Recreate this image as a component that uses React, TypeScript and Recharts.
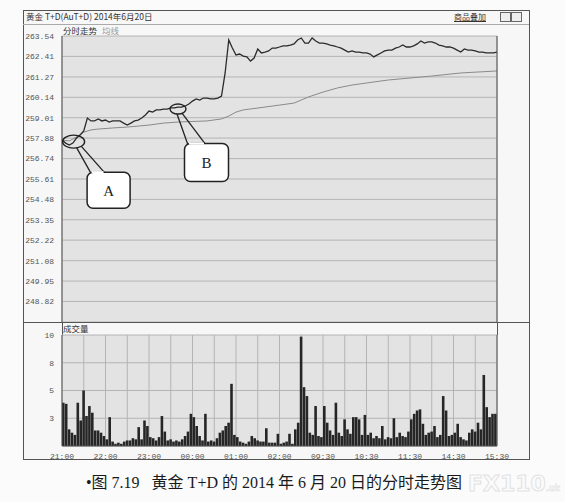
import { ComposedChart, Line, Bar, XAxis, YAxis, CartesianGrid, ReferenceDot } from 'recharts';

// price axis ticks (left) and percent ticks (right)
const PRICE_TICKS = [263.54, 262.41, 261.27, 260.14, 259.01, 257.88, 256.74, 255.61, 254.48, 253.35, 252.22, 251.08, 249.95, 248.82, 247.68];
const PCT_TICKS = [3.1, 2.66, 2.22, 1.77, 1.33, 0.89, 0.44, 0, -0.44, -0.88, -1.33, -1.77, -2.21, -2.66, -3.1];

// minute price, one value every 5 minutes from 21:00
const PRICE = [
  257.77, 257.6, 257.49, 257.6, 257.88, 258.05, 258.27, 258.99, 258.83, 258.83,
  258.94, 258.83, 258.88, 258.77, 258.83, 258.83, 258.83, 258.71, 258.6, 258.71,
  258.83, 258.88, 258.99, 259.16, 259.38, 259.32, 259.44, 259.44, 259.49, 259.49,
  259.55, 259.55, 259.6, 259.6, 259.66, 259.77, 259.93, 260.05, 259.99, 260.1,
  260.1, 260.05, 260.05, 260.1, 260.21, 261.49, 263.32, 262.87, 262.49, 262.54,
  262.43, 262.38, 262.15, 262.32, 262.82, 262.6, 262.65, 262.71, 262.87, 262.87,
  262.93, 262.99, 262.99, 263.04, 263.1, 263.32, 263.43, 263.15, 263.15, 263.43,
  263.26, 263.15, 263.15, 263.1, 263.04, 262.99, 262.93, 262.87, 262.76, 262.65,
  262.71, 262.65, 262.65, 262.6, 262.6, 262.54, 262.38, 262.49, 262.6, 262.71,
  262.76, 262.76, 262.87, 262.93, 263.04, 262.93, 262.93, 262.99, 263.1, 263.26,
  263.15, 263.21, 263.21, 263.15, 263.04, 262.99, 262.93, 262.93, 262.87, 262.76,
  262.65, 262.82, 262.76, 262.76, 262.71, 262.65, 262.65, 262.6, 262.6, 262.6,
  262.65,
];

// average line (均线), read at these minutes
const AVG_MIN = [0, 10, 20, 30, 40, 50, 70, 90, 120, 140, 160, 200, 220, 230, 240, 250, 280, 300, 320, 330, 340, 360, 380, 400, 430, 450, 480, 510, 550, 600];
const AVG = [257.77, 257.72, 257.94, 258.21, 258.33, 258.38, 258.44, 258.49, 258.6, 258.71, 258.77, 258.83, 258.94, 259.1, 259.32, 259.44, 259.6, 259.71, 259.82, 259.99, 260.16, 260.43, 260.66, 260.82, 260.99, 261.1, 261.21, 261.32, 261.49, 261.6];

// volume, one bar every 4 minutes
const VOL = [
  3.9, 3.8, 1.5, 1.2, 1.0, 3.9, 2.3, 5.0, 2.7, 3.6,
  3.0, 1.4, 1.4, 1.2, 0.9, 0.6, 2.6, 0.4, 0.2, 0.3,
  0.2, 0.4, 0.5, 0.5, 0.7, 0.6, 1.7, 0.6, 2.3, 1.8,
  0.8, 0.7, 0.5, 0.8, 2.7, 1.3, 0.5, 0.6, 0.4, 0.5,
  0.4, 0.6, 0.9, 1.3, 2.9, 2.6, 1.8, 0.9, 0.5, 2.9,
  0.4, 0.5, 0.4, 0.7, 1.2, 1.4, 1.8, 2.1, 5.6, 1.0,
  0.8, 0.4, 0.3, 0.2, 0.4, 0.9, 0.7, 0.5, 0.4, 0.4,
  1.6, 0.3, 0.3, 0.3, 1.1, 0.2, 0.3, 0.4, 1.1, 0.2,
  1.5, 2.1, 9.85, 5.3, 4.5, 1.2, 1.0, 3.6, 0.9, 0.8,
  3.6, 2.1, 1.4, 1.0, 3.9, 1.2, 0.9, 2.4, 1.5, 1.1,
  2.6, 2.6, 2.4, 1.0, 2.8, 1.0, 1.2, 0.7, 0.9, 0.7,
  1.8, 0.6, 0.8, 0.7, 2.5, 0.8, 1.2, 0.9, 0.8, 1.3,
  2.4, 2.9, 3.2, 3.3, 2.0, 1.0, 1.2, 1.3, 1.8, 0.8,
  1.0, 4.5, 3.2, 0.9, 1.0, 1.2, 2.0, 0.8, 0.6, 0.5,
  1.2, 1.5, 1.3, 2.1, 1.5, 6.4, 3.5, 2.6, 2.9, 2.9,
];
const VOL_TICKS = [0, 2.5, 5, 7.5, 10];
const VOL_PCT_TICKS = [0, 25, 50, 75, 100];

const GRID_MIN = [0, 30, 60, 90, 120, 150, 180, 210, 240, 270, 300, 330, 360, 390, 420, 450, 480, 510, 540, 570, 600];
const TIME_LABELS = ['21:00', '22:00', '23:00', '00:00', '01:00', '02:00', '09:30', '10:30', '11:30', '14:30', '15:30'];

const priceData = PRICE.map((p, i) => ({ m: i * 5, p }));
const avgData = AVG.map((a, i) => ({ m: AVG_MIN[i], a }));
const volData = VOL.map((v, i) => ({ m: i * 4 + 2, v }));

const tickFont = { fontFamily: "'Liberation Mono', monospace", fontSize: 8, fill: '#555' };
const PLOT_BG = '#e3e3e3';
const GRID = '#b4b4b4';

const CalloutA = (props: any) => {
  const { cx, cy } = props;
  return (
    <g>
      <ellipse cx={cx} cy={cy} rx={11} ry={6.5} fill="none" stroke="#222" strokeWidth={1.4} />
      <line x1={cx + 3} y1={cy + 6} x2={cx + 17} y2={cy + 31} stroke="#222" strokeWidth={1.3} />
      <line x1={cx + 8} y1={cy + 5} x2={cx + 31} y2={cy + 31} stroke="#222" strokeWidth={1.3} />
      <rect x={cx + 13.5} y={cy + 30.5} width={43} height={36} rx={6} fill="#fff" stroke="#222" strokeWidth={1.5} />
      <line x1={cx + 18} y1={cy + 30.5} x2={cx + 30} y2={cy + 30.5} stroke="#fff" strokeWidth={2} />
      <text x={cx + 35} y={cy + 54} textAnchor="middle" fontFamily="'Liberation Serif', serif" fontSize={15} fill="#222">A</text>
    </g>
  );
};

const CalloutB = (props: any) => {
  const { cx, cy } = props;
  return (
    <g>
      <ellipse cx={cx} cy={cy} rx={8} ry={5} fill="none" stroke="#222" strokeWidth={1.4} />
      <line x1={cx - 1} y1={cy + 5} x2={cx + 10} y2={cy + 36} stroke="#222" strokeWidth={1.3} />
      <line x1={cx + 4} y1={cy + 4} x2={cx + 27} y2={cy + 34.5} stroke="#222" strokeWidth={1.3} />
      <rect x={cx + 6.5} y={cy + 34.5} width={44} height={38} rx={6} fill="#fff" stroke="#222" strokeWidth={1.5} />
      <line x1={cx + 11} y1={cy + 34.5} x2={cx + 26} y2={cy + 34.5} stroke="#fff" strokeWidth={2} />
      <text x={cx + 28.5} y={cy + 59} textAnchor="middle" fontFamily="'Liberation Serif', serif" fontSize={15} fill="#222">B</text>
    </g>
  );
};

const fmtPct = (v: number) => (v <= -3.09 ? '' : (v >= 0 ? '+' : '') + v.toFixed(2) + '%');

const line = (style: any) => <div style={{ position: 'absolute', background: '#555', ...style }} />;

export default function App() {
  return (
    <div style={{ position: 'absolute', left: 0, top: 0, width: 565, height: 502, background: '#fbfbfb', overflow: 'hidden' }}>
      {/* frame */}
      <div style={{ position: 'absolute', left: 23, top: 10, width: 505, height: 448, border: '1px solid #555', background: '#f7f7f7' }} />
      <div style={{ position: 'absolute', left: 26, top: 10, fontFamily: "'Noto Sans CJK SC', sans-serif", fontSize: 8.5, color: '#333', lineHeight: '13px' }}>
        黄金 T+D(AuT+D) 2014年6月20日
      </div>
      <div style={{ position: 'absolute', left: 454, top: 10, fontFamily: "'Noto Sans CJK SC', sans-serif", fontSize: 8, color: '#333', lineHeight: '13px', textDecoration: 'underline' }}>
        商品叠加
      </div>
      <div style={{ position: 'absolute', left: 500, top: 12, width: 9, height: 8, border: '1px solid #666', background: '#eee' }} />
      <div style={{ position: 'absolute', left: 511, top: 12, width: 9, height: 8, border: '1px solid #666', background: '#eee' }} />
      {line({ left: 23, top: 24, width: 506, height: 1, background: '#aaa' })}
      <div style={{ position: 'absolute', left: 63, top: 24, fontFamily: "'Noto Sans CJK SC', sans-serif", fontSize: 8.5, color: '#333', lineHeight: '12px' }}>
        分时走势 <span style={{ color: '#999', marginLeft: 3 }}>均线</span>
      </div>

      {/* price chart */}
      <div style={{ position: 'absolute', left: 23, top: 24 }}>
        <ComposedChart width={506} height={298} margin={{ top: 12, right: 0, bottom: 0, left: 0 }}>
          <CartesianGrid yAxisId="p" fill={PLOT_BG} stroke={GRID} strokeWidth={1} />
          <XAxis type="number" dataKey="m" domain={[0, 600]} ticks={GRID_MIN} interval={0} tick={false} tickLine={false} axisLine={false} height={0} allowDuplicatedCategory={false} />
          <YAxis yAxisId="p" domain={[247.68, 263.54]} ticks={PRICE_TICKS} interval={0} width={39} tickLine={false} tickMargin={2}
            axisLine={{ stroke: '#555' }} tick={tickFont} tickFormatter={(v: number) => (v < 248 ? '' : v.toFixed(2))} />
          <YAxis yAxisId="pct" orientation="right" domain={[-3.1, 3.1]} ticks={PCT_TICKS} interval={0} width={32} tickLine={false} tickMargin={2}
            axisLine={{ stroke: '#555' }} tick={{ ...tickFont, textAnchor: 'start' }} tickFormatter={fmtPct} />
          <Line yAxisId="p" data={avgData} dataKey="a" type="linear" stroke="#8a8a8a" strokeWidth={1} dot={false} isAnimationActive={false} />
          <Line yAxisId="p" data={priceData} dataKey="p" type="linear" stroke="#2b2b2b" strokeWidth={1.3} dot={false} isAnimationActive={false} />
          <ReferenceDot yAxisId="p" x={16} y={257.68} shape={CalloutA} ifOverflow="visible" />
          <ReferenceDot yAxisId="p" x={160} y={259.49} shape={CalloutB} ifOverflow="visible" />
        </ComposedChart>
      </div>

      {line({ left: 23, top: 322, width: 506, height: 1 })}
      <div style={{ position: 'absolute', left: 63, top: 322, fontFamily: "'Noto Sans CJK SC', sans-serif", fontSize: 8.5, color: '#333', lineHeight: '12px' }}>
        成交量
      </div>
      {line({ left: 62, top: 322, width: 1, height: 13 })}
      {line({ left: 497, top: 322, width: 1, height: 13 })}

      {/* volume chart */}
      <div style={{ position: 'absolute', left: 23, top: 322 }}>
        <ComposedChart width={506} height={142} data={volData} margin={{ top: 13, right: 0, bottom: 0, left: 0 }}>
          <CartesianGrid yAxisId="v" fill={PLOT_BG} stroke={GRID} strokeWidth={1} />
          <XAxis type="number" dataKey="m" domain={[0, 600]} ticks={GRID_MIN} interval={0} height={18} tickLine={false} tickMargin={1}
            axisLine={{ stroke: '#555' }} tick={tickFont} tickFormatter={(m: number) => (m % 60 === 0 ? TIME_LABELS[m / 60] : '')} />
          <YAxis yAxisId="v" domain={[0, 10]} ticks={VOL_TICKS} interval={0} width={39} tickLine={false} tickMargin={2}
            axisLine={{ stroke: '#555' }} tick={tickFont} tickFormatter={(v: number) => (v === 0 ? '' : String(Math.round(v)))} />
          <YAxis yAxisId="vp" orientation="right" domain={[0, 100]} ticks={VOL_PCT_TICKS} interval={0} width={32} tickLine={false} tickMargin={2}
            axisLine={{ stroke: '#555' }} tick={{ ...tickFont, textAnchor: 'start' }} tickFormatter={(v: number) => (v === 0 ? '' : '+' + v + '%')} />
          <Bar yAxisId="v" dataKey="v" fill="#262626" barSize={2.6} isAnimationActive={false} />
        </ComposedChart>
      </div>

      {/* caption */}
      <div style={{ position: 'absolute', left: 86, top: 472, fontFamily: "'Liberation Serif', 'Noto Sans CJK SC', serif", fontSize: 16, color: '#1a1a1a', whiteSpace: 'pre', lineHeight: '22px' }}>
        •图 7.19{'   '}黄金 T+D 的 2014 年 6 月 20 日的分时走势图
      </div>
      <div style={{ position: 'absolute', left: 468, top: 471, fontFamily: "'DejaVu Sans', sans-serif", fontSize: 22, fontWeight: 'bold', color: 'transparent', WebkitTextStroke: '1px #e2e2e2', lineHeight: '26px' }}>
        FX110<span style={{ fontSize: 8, WebkitTextStroke: '0.5px #ddd' }}>.uk</span>
      </div>
    </div>
  );
}
